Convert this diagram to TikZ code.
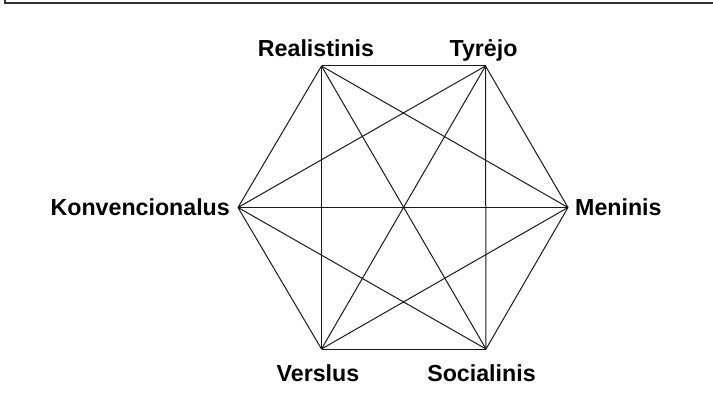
\documentclass[tikz,border=0pt]{standalone}
\usepackage{fontspec}
\setmainfont{Liberation Sans}
\usepackage{tikz}
\tikzset{
  lbl/.style={font=\bfseries\fontsize{23.2}{27}\selectfont, inner sep=0pt},
  edge/.style={line width=1pt, black!90}
}

\begin{document}
\begin{tikzpicture}[x=1pt,y=1pt]
            \useasboundingbox (0,0) rectangle (713,408);
            \draw[line width=1.3pt, black!80](5,408) -- (5,405) -- (713,405);
            \coordinate (real) at (321.5, 342);
            \coordinate (tyr) at (485.5, 342);
            \coordinate (men) at (568, 200.5);
            \coordinate (soc) at (486, 59);
            \coordinate (ver) at (321.5, 59);
            \coordinate (konv) at (238, 200.5);
            \node[lbl, anchor=base] (realt) at (316, 351) {Realistinis};
            \node[lbl, anchor=base] (tyrt) at (483.5, 351) {Tyrėjo};
            \node[lbl, anchor=base west] (ment) at (575, 193) {Meninis};
            \node[lbl, anchor=base] (soct) at (481.5, 27) {Socialinis};
            \node[lbl, anchor=base] (vert) at (318, 27) {Verslus};
            \node[lbl, anchor=base east] (konvt) at (230, 193) {Konvencionalus};
            \foreach \a/\b in {real/tyr, real/men, real/soc, real/ver, real/konv,
                               tyr/men, tyr/soc, tyr/ver, tyr/konv,
                               men/soc, men/ver, men/konv,
                               soc/ver, soc/konv, ver/konv}
              \draw[edge](\a) -- (\b);
        \end{tikzpicture}
\end{document}
